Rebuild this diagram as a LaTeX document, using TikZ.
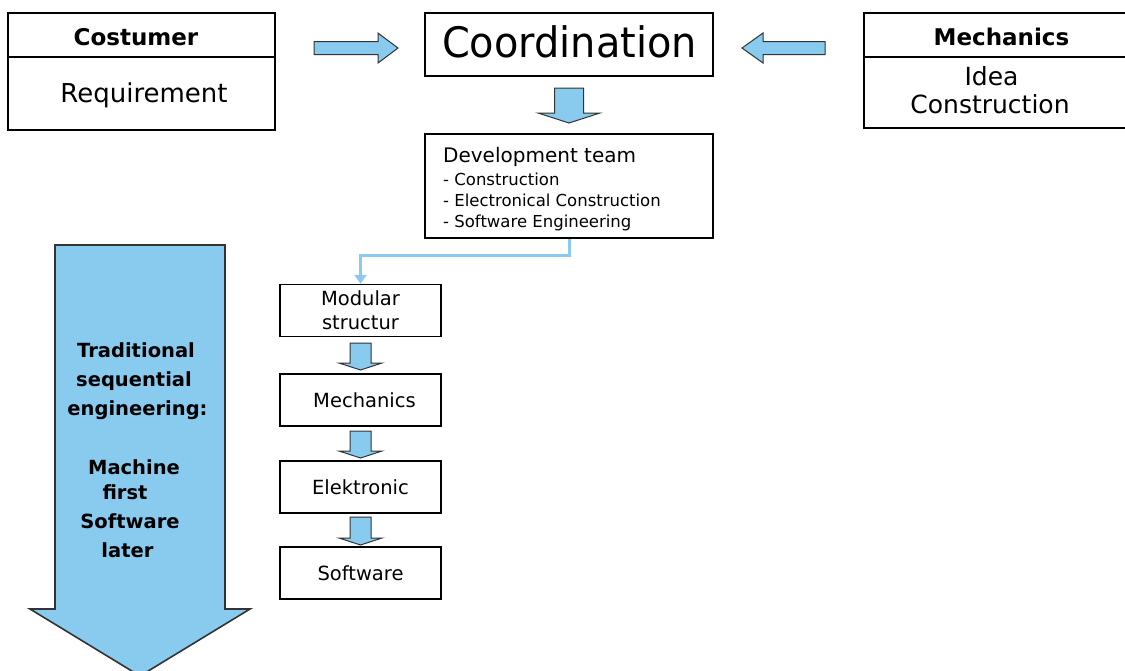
\documentclass[tikz,border=0pt]{standalone}
\usepackage{fontspec}
\setmainfont{DejaVu Sans}
\usetikzlibrary{positioning,arrows.meta}
\definecolor{skyfill}{HTML}{89CBEE}
\definecolor{linkblue}{HTML}{8CC9F0}

% block arrow pointing down: centre x, top y, head base y, tip y, body half, head half
\newcommand{\downblock}[6]{%
  \draw[blockarrow] (#1-#5,#2) -- (#1+#5,#2) -- (#1+#5,#3) -- (#1+#6,#3) -- (#1,#4)
    -- (#1-#6,#3) -- (#1-#5,#3) -- cycle;}
% block arrow pointing sideways: tail x, head base x, tip x, centre y, body half, head half
\newcommand{\sideblock}[6]{%
  \draw[blockarrow] (#1,#4-#5) -- (#2,#4-#5) -- (#2,#4-#6) -- (#3,#4) -- (#2,#4+#6)
    -- (#2,#4+#5) -- (#1,#4+#5) -- cycle;}

\begin{document}
\begin{tikzpicture}[x=1pt,y=-1pt,
  box/.style={draw,line width=2pt,inner sep=0pt},
  stagebox/.style={draw,line width=1.5pt,inner sep=0pt,minimum width=161pt,minimum height=52pt,
    align=center,font=\fontsize{19.5}{24}\selectfont},
  blockarrow/.style={draw=black!80,fill=skyfill,line width=1pt,line join=miter},
  headfont/.style={font=\bfseries\fontsize{23}{27}\selectfont},
  link/.style={draw=linkblue,line width=3pt,-{Triangle[width=12pt,length=9pt]}},
]
\useasboundingbox (0,0) rectangle (1125,670);
\clip (0,0) rectangle (1125,670);

% big arrow on the left
\begin{scope}[blockarrow/.append style={line width=1.6pt}]
\downblock{140}{245}{609}{676}{85}{110}
\end{scope}
\foreach \txt/\bx/\by in {Traditional/136/357, sequential/134/386, engineering:/137.5/415,
    Machine/134/474, first/125/499, Software/130/528, later/127.5/557}
  \node[anchor=base,font=\bfseries\fontsize{19.5}{24}\selectfont] at (\bx,\by) {\txt};

% costumer
\node[box,minimum width=267pt,minimum height=117pt] (costumer) at (141.5,71.5) {};
\draw[line width=2pt] ([yshift=-45pt]costumer.north west) -- ([yshift=-45pt]costumer.north east);
\node[headfont,anchor=base] (costumerhead) at (136,45) {Costumer};
\node[anchor=base,font=\fontsize{26}{30}\selectfont] (requirement) at (144,102) {Requirement};

% mechanics
\node[box,minimum width=276pt,minimum height=115pt] (mech) at (1002,70.5) {};
\draw[line width=2pt] ([yshift=-45pt]mech.north west) -- ([yshift=-45pt]mech.north east);
\node[headfont,anchor=base] (mechhead) at (1001.5,45) {Mechanics};
\node[anchor=base,font=\fontsize{25}{28}\selectfont] (idea) at (991.5,85) {Idea};
\node[anchor=base,font=\fontsize{25}{28}\selectfont] (construction) at (990,113) {Construction};

% coordination
\node[box,minimum width=288pt,minimum height=63pt] (coord) at (569,44.5) {};
\node[anchor=base,font=\fontsize{42}{46}\selectfont] (coordtext) at (569.5,57)
  {\scalebox{0.95}[1]{Coordination}};
\sideblock{314}{378}{398}{48}{6.5}{15}
\sideblock{825}{763}{742}{48}{6.5}{15}
\downblock{569}{88}{113}{123}{14.5}{31}

% development team
\node[box,minimum width=288pt,minimum height=104pt] (dev) at (569,186) {};
\node[anchor=base west,inner sep=0pt,font=\fontsize{20}{24}\selectfont] (devhead) at (443,162) {Development team};
\foreach \entry/\by in {Construction/185, Electronical Construction/206, Software Engineering/227}
  \node[anchor=base west,inner sep=0pt,font=\fontsize{16.5}{20}\selectfont] at (443,\by) {- \entry};

% stages
\node[stagebox] (modular) at (360.5,310.5) {Modular\\structur};
\node[stagebox] (mechstage) at (360.5,400) {\hspace{8pt}Mechanics};
\node[stagebox] (elek) at (360.5,487) {Elektronic};
\node[stagebox] (soft) at (360.5,573) {Software};
\foreach \ya/\yb in {343/370, 431/458, 517/545}
  {\downblock{360.5}{\ya}{\yb-7}{\yb}{10.5}{21.5}}

\draw[link] (dev.south) -- ++(0,16) -| (modular.north);
\end{tikzpicture}
\end{document}
